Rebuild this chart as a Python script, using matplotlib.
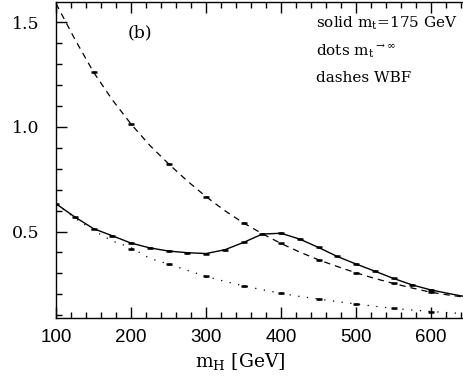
import matplotlib
matplotlib.use('Agg')
import matplotlib.pyplot as plt
from matplotlib.ticker import MultipleLocator

plt.rcParams['font.family'] = 'DejaVu Serif'
plt.rcParams['mathtext.fontset'] = 'dejavuserif'

# curves (m_H in GeV)
mh = [100, 125, 150, 175, 200, 225, 250, 275, 300, 325, 350, 375, 400,
      425, 450, 475, 500, 525, 550, 575, 600, 625, 650]
solid = [0.633, 0.570, 0.514, 0.480, 0.445, 0.422, 0.407, 0.399, 0.395, 0.413,
         0.448, 0.488, 0.492, 0.464, 0.424, 0.381, 0.345, 0.311, 0.276, 0.245,
         0.221, 0.203, 0.186]
dots = [0.633, 0.565, 0.505, 0.455, 0.423, 0.372, 0.345, 0.315, 0.286, 0.262,
        0.241, 0.222, 0.205, 0.190, 0.178, 0.165, 0.154, 0.143, 0.133, 0.125,
        0.118, 0.112, 0.107]
dashes = [1.59, 1.42, 1.262, 1.13, 1.014, 0.912, 0.824, 0.742, 0.667, 0.600,
          0.541, 0.490, 0.443, 0.402, 0.365, 0.333, 0.303, 0.276, 0.252, 0.230,
          0.210, 0.196, 0.184]

# Monte Carlo points with error bars
solid_pts_x = [100, 125, 150, 175, 200, 225, 250, 275, 300, 325, 350, 375, 400,
               425, 450, 475, 500, 525, 550, 575, 600]
solid_pts_y = [0.633, 0.570, 0.514, 0.480, 0.445, 0.422, 0.407, 0.399, 0.395,
               0.413, 0.448, 0.488, 0.492, 0.464, 0.424, 0.381, 0.345, 0.311,
               0.276, 0.245, 0.221]
dots_pts_x = [200, 250, 300, 350, 400, 450, 500, 550, 600]
dots_pts_y = [0.416, 0.345, 0.286, 0.241, 0.205, 0.178, 0.154, 0.133, 0.118]
dash_pts_x = [150, 200, 250, 300, 350, 400, 450, 500, 550, 600]
dash_pts_y = [1.262, 1.014, 0.824, 0.667, 0.541, 0.443, 0.365, 0.303, 0.252, 0.210]

fig = plt.figure(figsize=(4.63, 3.76), dpi=100)
ax = fig.add_axes([56 / 463, 1 - 318 / 376, (468.5 - 56) / 463, 316 / 376])

ax.plot(mh, solid, color='black', lw=1.0, ls='-')
ax.plot(mh, dots, color='black', lw=0.9, ls=(0, (1, 6)))
ax.plot(mh, dashes, color='black', lw=0.9, ls=(0, (5, 4)))

for xs, ys in [(solid_pts_x, solid_pts_y), (dots_pts_x, dots_pts_y),
               (dash_pts_x, dash_pts_y)]:
    ax.errorbar(xs, ys, xerr=4, yerr=0.004, fmt='none', ecolor='black',
                elinewidth=1.8, capsize=0)

ax.set_xlim(100, 650)
ax.set_ylim(0.087, 1.597)
ax.xaxis.set_major_locator(MultipleLocator(100))
ax.xaxis.set_minor_locator(MultipleLocator(20))
ax.yaxis.set_major_locator(MultipleLocator(0.5))
ax.yaxis.set_minor_locator(MultipleLocator(0.1))
ax.tick_params(which='both', direction='in', top=True, right=False, width=1.0)
ax.tick_params(which='major', length=8)
ax.tick_params(which='minor', length=4)
ax.set_yticks([0.5, 1.0, 1.5])
ax.set_yticklabels(['0.5', '1.0', '1.5'], fontsize=12.5)
ax.set_xticks([100, 200, 300, 400, 500, 600])
ax.set_xticklabels(['100', '200', '300', '400', '500', '600'],
                   fontfamily='Liberation Sans', fontsize=13.5)
ax.tick_params(axis='x', which='major', pad=8)
ax.tick_params(axis='y', which='major', pad=12)
for sp in ax.spines.values():
    sp.set_linewidth(1.0)
ax.spines['right'].set_visible(False)

fig.text(240 / 463, 1 - 361 / 376, r'm$_{\rm H}$ [GeV]', ha='center', va='center',
         fontsize=13.5)
ax.text(212, 1.45, '(b)', ha='center', va='center', fontsize=12.5)
tx = 100 + (316 - 56) / 0.75
ax.text(tx, 1.495, r'solid m$_{\rm t}$=175 GeV', ha='left', va='center', fontsize=11)
ax.text(tx, 1.365, r'dots m$_{\rm t}$$^{\rightarrow\infty}$', ha='left', va='center',
        fontsize=11)
ax.text(tx, 1.235, 'dashes WBF', ha='left', va='center', fontsize=11)

fig.savefig('out.png', dpi=100)
